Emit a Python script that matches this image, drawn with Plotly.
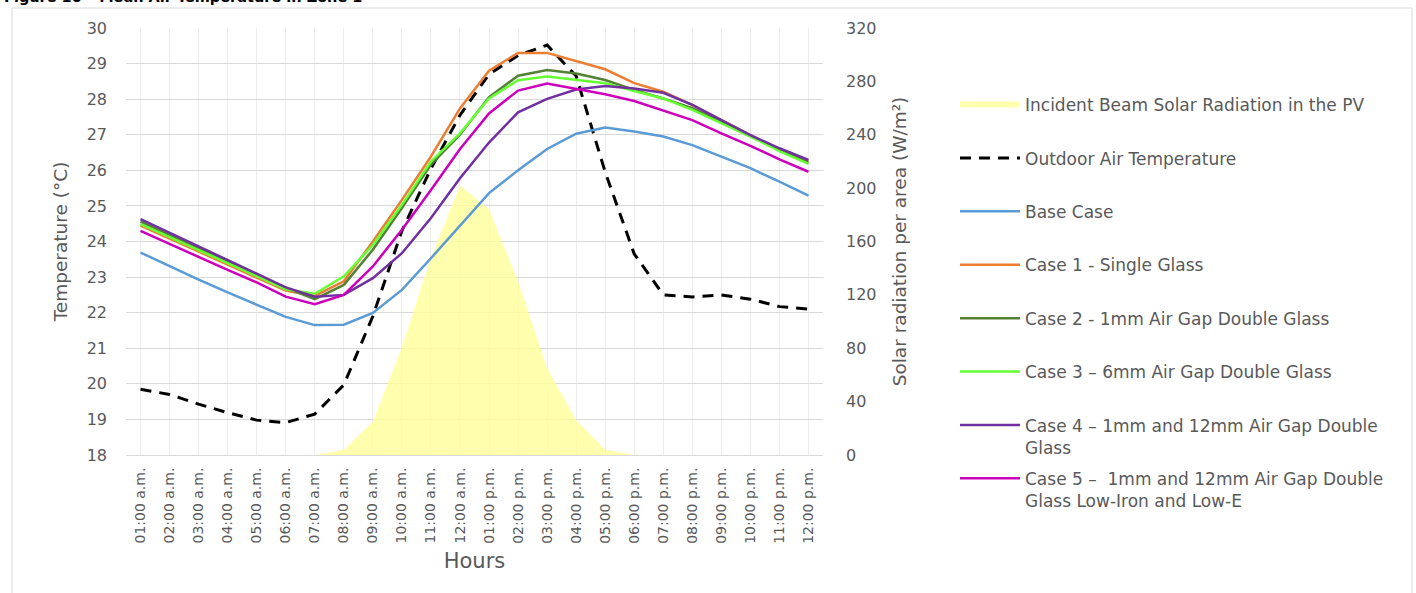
import plotly.graph_objects as go

# ---------------- data ----------------
hours = [
    "01:00 a.m.", "02:00 a.m.", "03:00 a.m.", "04:00 a.m.", "05:00 a.m.", "06:00 a.m.",
    "07:00 a.m.", "08:00 a.m.", "09:00 a.m.", "10:00 a.m.", "11:00 a.m.", "12:00 a.m.",
    "01:00 p.m.", "02:00 p.m.", "03:00 p.m.", "04:00 p.m.", "05:00 p.m.", "06:00 p.m.",
    "07:00 p.m.", "08:00 p.m.", "09:00 p.m.", "10:00 p.m.", "11:00 p.m.", "12:00 p.m.",
]

solar_radiation = [0, 0, 0, 0, 0, 0, 0, 4, 25, 81, 148, 202,
                   184, 130, 65, 26, 4, 0, 0, 0, 0, 0, 0, 0]

outdoor_air = [19.85, 19.70, 19.43, 19.19, 18.98, 18.91, 19.15, 19.97, 21.90, 24.30, 26.05, 27.55,
               28.70, 29.23, 29.52, 28.65, 25.95, 23.65, 22.50, 22.44, 22.50, 22.38, 22.17, 22.10]

base_case = [23.69, 23.30, 22.93, 22.57, 22.22, 21.88, 21.65, 21.66, 21.99, 22.64, 23.53, 24.45,
             25.36, 26.00, 26.60, 27.03, 27.20, 27.09, 26.95, 26.71, 26.38, 26.06, 25.68, 25.29]

case1 = [24.45, 24.08, 23.71, 23.34, 22.98, 22.62, 22.47, 22.88, 24.00, 25.17, 26.39, 27.74,
         28.80, 29.30, 29.30, 29.06, 28.84, 28.45, 28.21, 27.84, 27.41, 26.99, 26.59, 26.24]

case2 = [24.56, 24.18, 23.80, 23.42, 23.05, 22.70, 22.38, 22.78, 23.77, 24.94, 26.16, 27.00,
         28.06, 28.66, 28.82, 28.72, 28.54, 28.26, 28.02, 27.75, 27.37, 26.96, 26.57, 26.21]

case3 = [24.49, 24.12, 23.75, 23.39, 23.03, 22.66, 22.53, 23.02, 23.90, 25.03, 26.25, 27.04,
         28.02, 28.53, 28.64, 28.55, 28.45, 28.23, 28.02, 27.70, 27.32, 26.95, 26.54, 26.18]

case4 = [24.63, 24.25, 23.86, 23.48, 23.11, 22.71, 22.45, 22.50, 22.97, 23.67, 24.66, 25.78,
         26.78, 27.63, 28.01, 28.27, 28.37, 28.30, 28.18, 27.84, 27.41, 26.99, 26.62, 26.29]

case5 = [24.30, 23.93, 23.57, 23.20, 22.85, 22.45, 22.24, 22.50, 23.30, 24.33, 25.45, 26.60,
         27.60, 28.24, 28.44, 28.29, 28.14, 27.95, 27.68, 27.41, 27.04, 26.69, 26.31, 25.96]

series_names = [
    "Outdoor Air Temperature",
    "Base Case",
    "Case 1 - Single Glass",
    "Case 2 - 1mm Air Gap Double Glass",
    "Case 3 \u2013 6mm Air Gap Double Glass",
    "Case 4 \u2013 1mm and 12mm Air Gap Double<br>Glass",
    "Case 5 \u2013  1mm and 12mm Air Gap Double<br>Glass Low-Iron and Low-E",
]
series_values = [outdoor_air, base_case, case1, case2, case3, case4, case5]
series_colors = ["#000000", "#5B9BD5", "#ED7D31", "#548235", "#66FF33", "#7030A0", "#CC00BB"]
solar_name = "Incident Beam Solar Radiation in the PV"

# ---------------- layout geometry ----------------
W, H = 1416, 593
L, R, T, B = 126, 593, 28, 138
PW, PH = W - L - R, H - T - B

def px_x(px):
    return (px - L) / PW

def px_y(py):
    return (H - B - py) / PH

GREY = "#595959"
FONT = "DejaVu Sans"

def legend_key(k):
    return "legend" if k == 0 else "legend%d" % (k + 1)

fig = go.Figure()

fig.add_trace(go.Scatter(
    x=hours, y=solar_radiation, name=solar_name, yaxis="y",
    mode="none", fill="tozeroy", fillcolor="rgba(255,255,150,0.78)",
    legend=legend_key(0), hoverinfo="skip",
))

for i, (name, vals, col) in enumerate(zip(series_names, series_values, series_colors)):
    dash = "11px,8px" if i == 0 else "solid"
    width = 3 if i == 0 else 2.5
    fig.add_trace(go.Scatter(
        x=hours, y=vals, name=name, yaxis="y2", mode="lines",
        line=dict(color=col, width=width, dash=dash),
        legend=legend_key(i + 1),
    ))

# legends: one slot per entry, evenly spaced like the original
legend_top_px = 105
legend_step_px = 53.4
legend_x_px = 955
for k in range(8):
    fig.layout[legend_key(k)] = dict(
        x=px_x(legend_x_px), xanchor="left",
        y=px_y(legend_top_px + k * legend_step_px - 18), yanchor="top",
        bgcolor="rgba(0,0,0,0)", borderwidth=0,
        font=dict(family=FONT, size=17, color=GREY),
        itemwidth=60, valign="top", tracegroupgap=0,
        itemclick=False, itemdoubleclick=False,
    )

fig.update_layout(
    width=W, height=H,
    margin=dict(l=L, r=R, t=T, b=B, pad=0),
    paper_bgcolor="white", plot_bgcolor="white",
    font=dict(family=FONT, color=GREY),
    showlegend=True,
    xaxis=dict(
        type="category", range=[-0.5, 23.5],
        tickangle=-90, tickfont=dict(size=14, color=GREY),
        showgrid=True, gridcolor="#EDEDED", gridwidth=1,
        showline=True, linecolor="#D9D9D9", linewidth=1,
        ticks="", ticklabelstandoff=6,
        title=dict(text="Hours", font=dict(size=21, color=GREY), standoff=10),
    ),
    yaxis=dict(
        side="right", range=[0, 320], dtick=40,
        showgrid=False, zeroline=False, showline=False, ticks="",
        tickfont=dict(size=16, color=GREY), ticklabelstandoff=22,
        title=dict(text="Solar radiation per area (W/m\u00b2)", font=dict(size=18.5, color=GREY), standoff=17),
    ),
    yaxis2=dict(
        overlaying="y", side="left", range=[18, 30], dtick=1,
        showgrid=True, gridcolor="#D9D9D9", gridwidth=1,
        zeroline=False, showline=False, ticks="",
        tickfont=dict(size=16, color=GREY), ticklabelstandoff=18,
        title=dict(text="Temperature (\u00b0C)", font=dict(size=18.5, color=GREY), standoff=14),
    ),
    shapes=[dict(
        type="rect", xref="paper", yref="paper",
        x0=px_x(12), x1=px_x(1412), y0=px_y(610), y1=px_y(8),
        line=dict(color="#D9D9D9", width=1), fillcolor="rgba(0,0,0,0)", layer="below",
    )],
    annotations=[dict(
        text="<b>Figure 10 \u2013 Mean Air Temperature in Zone 1</b>",
        xref="paper", yref="paper", x=px_x(2), y=px_y(-3),
        xanchor="left", yanchor="middle", showarrow=False,
        font=dict(family="DejaVu Sans", size=14.5, color="#000000"),
    )],
)

fig.write_html("out.html")
